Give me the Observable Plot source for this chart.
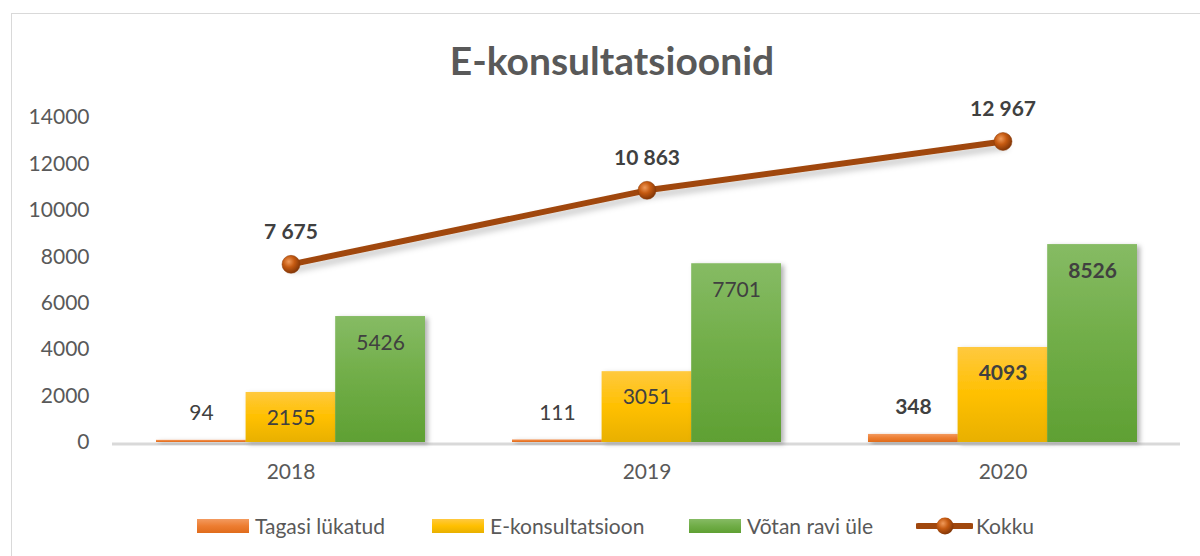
<!DOCTYPE html>
<html>
<head>
<meta charset="utf-8">
<script src="https://cdn.jsdelivr.net/npm/d3@7"></script>
<script src="https://cdn.jsdelivr.net/npm/@observablehq/plot@0.6"></script>
<style>
  html, body { margin: 0; padding: 0; background: #fff; }
  body { width: 1200px; height: 556px; overflow: hidden; position: relative; font-family: Lato, "Open Sans", sans-serif; }
  #frame { position: absolute; left: 11px; top: 13px; width: 1300px; height: 700px; border: 1.5px solid #d9d9d9; box-sizing: border-box; }
  #title { position: absolute; left: 0; width: 1224px; top: 37px; text-align: center; font-weight: 700; font-size: 39px; color: #595959; line-height: 46px; }
  #chart { position: absolute; left: 0; top: 100px; }
  #legend { position: absolute; left: 0; top: 0; width: 1200px; height: 556px; font-size: 21px; color: #595959; pointer-events: none; }
  .item { position: absolute; top: 513px; display: flex; align-items: center; gap: 6px; line-height: 26px; white-space: nowrap; }
  .sw { width: 52px; height: 14px; }
</style>
</head>
<body>
<div id="frame"></div>
<div id="title">E-konsultatsioonid</div>
<div id="chart"></div>
<div id="legend"></div>
<script>
// ---- data ----
const years = ["2018", "2019", "2020"];
const tagasiLykatud = [94, 111, 348];
const eKonsultatsioon = [2155, 3051, 4093];
const votanRaviYle = [5426, 7701, 8526];
const kokku = [7675, 10863, 12967];
const kokkuLabels = ["7 675", "10 863", "12 967"];
const seriesNames = ["Tagasi lükatud", "E-konsultatsioon", "Võtan ravi üle", "Kokku"];
const yTicks = [0, 2000, 4000, 6000, 8000, 10000, 12000, 14000];
const boldYear = "2020";

// ---- tables ----
const rows = years.map((year, i) => ({
  year, tagasi: tagasiLykatud[i], ekons: eKonsultatsioon[i], votan: votanRaviYle[i],
  kokku: kokku[i], kokkuLabel: kokkuLabels[i]
}));
const isBold = d => d.year === boldYear;
const notBold = d => d.year !== boldYear;

// ---- layout ----
const W = 1200, H = 390, mL = 112, mR = 20, mT = 17, mB = 48;
const padInner = 0.245;
const step = (W - mL - mR) / years.length;
const bw = step * (1 - padInner);
const b3 = bw / 3;

const defs = () => {
  const d = d3.create("svg:defs");
  const lin = (id, stops) => {
    const g = d.append("linearGradient").attr("id", id).attr("x1", 0).attr("y1", 0).attr("x2", 0).attr("y2", 1);
    stops.forEach(([o, c]) => g.append("stop").attr("offset", o).attr("stop-color", c));
  };
  lin("gOrange", [[0, "#f39a5f"], [0.5, "#ed7d31"], [1, "#e06c1c"]]);
  lin("gYellow", [[0, "#ffc93f"], [0.5, "#ffc000"], [1, "#e8b000"]]);
  lin("gGreen", [[0, "#86bb64"], [0.5, "#70ad47"], [1, "#5fa033"]]);
  const r = d.append("radialGradient").attr("id", "gDot").attr("cx", 0.38).attr("cy", 0.35).attr("r", 0.7);
  [[0, "#f09a5a"], [0.45, "#c55a11"], [1, "#7a3206"]].forEach(([o, c]) => r.append("stop").attr("offset", o).attr("stop-color", c));
  const f = d.append("filter").attr("id", "shadow").attr("x", "-20%").attr("y", "-20%").attr("width", "150%").attr("height", "150%");
  f.append("feDropShadow").attr("dx", 3).attr("dy", 2).attr("stdDeviation", 2.5).attr("flood-color", "#000").attr("flood-opacity", 0.3);
  const f2 = d.append("filter").attr("id", "lshadow").attr("x", "-10%").attr("y", "-50%").attr("width", "130%").attr("height", "250%");
  f2.append("feDropShadow").attr("dx", 2).attr("dy", 5).attr("stdDeviation", 3).attr("flood-color", "#000").attr("flood-opacity", 0.22);
  return d.node();
};

const labelFont = {fontSize: 21, fill: "#404040", fontFamily: "Lato, sans-serif"};
const valueLabels = (field, dx, dy) => [
  Plot.text(rows, {filter: notBold, x: "year", y: field, text: d => String(d[field]), dx, dy, ...labelFont, fontWeight: 400}),
  Plot.text(rows, {filter: isBold, x: "year", y: field, text: d => String(d[field]), dx, dy, ...labelFont, fontWeight: 700})
];

const chart = Plot.plot({
  width: W, height: H, marginLeft: mL, marginRight: mR, marginTop: mT, marginBottom: mB,
  style: {fontFamily: "Lato, sans-serif", background: "transparent", overflow: "visible"},
  x: {type: "band", domain: years, paddingInner: padInner, paddingOuter: padInner / 2, label: null},
  y: {domain: [0, 14000], label: null},
  marks: [
    defs,
    Plot.axisY({ticks: yTicks, tickSize: 0, tickPadding: 23, tickFormat: d => String(d), fontSize: 21, fill: "#595959", label: null}),
    Plot.axisX({tickSize: 0, tickPadding: 22, fontSize: 21, fill: "#595959", label: null}),
    Plot.ruleY([0], {stroke: "#d9d9d9", strokeWidth: 3, dy: 1.5}),
    Plot.barY(rows, {x: "year", y: "tagasi", fill: "url(#gOrange)", insetLeft: 0, insetRight: 2 * b3}),
    Plot.barY(rows, {x: "year", y: "ekons", fill: "url(#gYellow)", insetLeft: b3, insetRight: b3}),
    Plot.barY(rows, {x: "year", y: "votan", fill: "url(#gGreen)", insetLeft: 2 * b3, insetRight: 0}),
    ...valueLabels("tagasi", -b3, -27),
    ...valueLabels("ekons", 0, 26),
    ...valueLabels("votan", b3, 27),
    Plot.line(rows, {x: "year", y: "kokku", stroke: "#a0470d", strokeWidth: 6, strokeLinecap: "round"}),
    Plot.dot(rows, {x: "year", y: "kokku", r: 9, fill: "url(#gDot)", stroke: "#8a3a08", strokeWidth: 0.5}),
    Plot.text(rows, {x: "year", y: "kokku", text: "kokkuLabel", dy: -32, ...labelFont, fontWeight: 700})
  ]
});
const svg = d3.select(chart);
svg.selectAll("g[aria-label='bar']").attr("filter", "url(#shadow)");
svg.selectAll("g[aria-label='line']").attr("filter", "url(#lshadow)");
document.getElementById("chart").appendChild(chart);

// ---- legend ----
const legend = d3.select("#legend");
const swatches = ["linear-gradient(#f39a5f,#ed7d31,#e06c1c)", "linear-gradient(#ffc93f,#ffc000,#e8b000)", "linear-gradient(#86bb64,#70ad47,#5fa033)"];
const legendX = [197, 432, 689, 916];
seriesNames.slice(0, 3).forEach((name, i) => {
  const it = legend.append("div").attr("class", "item").style("left", legendX[i] + "px");
  it.append("div").attr("class", "sw").style("background", swatches[i]);
  it.append("span").text(name);
});
const k = legend.append("div").attr("class", "item").style("left", legendX[3] + "px");
const ks = k.append("svg").attr("width", 57).attr("height", 20);
ks.append("line").attr("x1", 2).attr("x2", 55).attr("y1", 10).attr("y2", 10).attr("stroke", "#a0470d").attr("stroke-width", 6).attr("stroke-linecap", "round");
const kd = ks.append("defs").append("radialGradient").attr("id", "gDotL").attr("cx", 0.38).attr("cy", 0.35).attr("r", 0.7);
[[0, "#f09a5a"], [0.45, "#c55a11"], [1, "#7a3206"]].forEach(([o, c]) => kd.append("stop").attr("offset", o).attr("stop-color", c));
ks.append("circle").attr("cx", 29).attr("cy", 10).attr("r", 8.5).attr("fill", "url(#gDotL)");
k.append("span").text(seriesNames[3]).style("margin-left", "-3px");
</script>
</body>
</html>
